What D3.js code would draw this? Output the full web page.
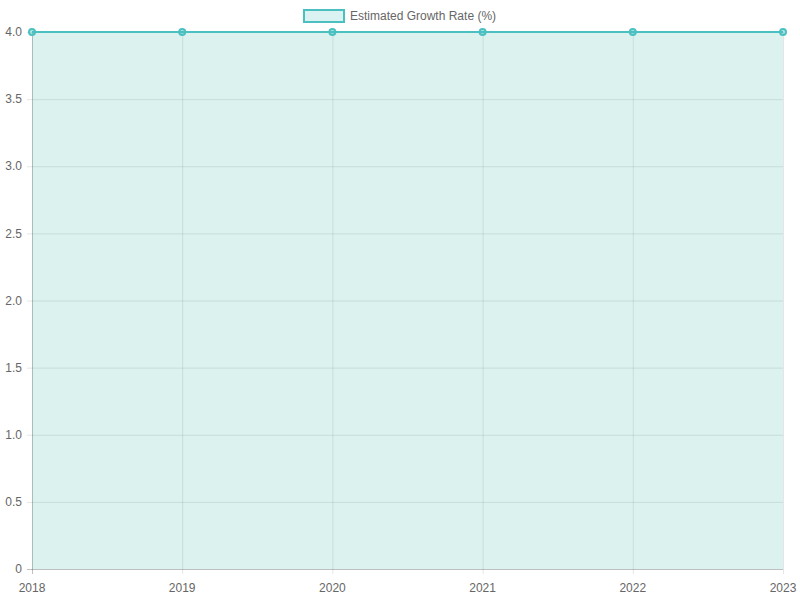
<!DOCTYPE html>
<html><head><meta charset="utf-8">
<script src="https://cdn.jsdelivr.net/npm/d3@7"></script>
<style>body{margin:0;background:#fff}svg{display:block}</style>
</head><body>
<script>
const years = ["2018","2019","2020","2021","2022","2023"];
const growthRate = [4, 4, 4, 4, 4, 4];
const yTicks = [0, 0.5, 1.0, 1.5, 2.0, 2.5, 3.0, 3.5, 4.0];
const seriesName = "Estimated Growth Rate (%)";

const W = 800, H = 600;
const m = {left: 32, right: 17, top: 32, bottom: 31};
const svg = d3.select("body").append("svg").attr("width", W).attr("height", H);
const font = "'Liberation Sans', Arial, Helvetica, sans-serif";

const x = d3.scalePoint().domain(years).range([m.left, W - m.right]);
const y = d3.scaleLinear().domain([0, 4]).range([H - m.bottom, m.top]);

// grid
const g = svg.append("g");
g.selectAll(".hg").data(yTicks).join("line")
  .attr("x1", m.left - 5).attr("x2", W - m.right)
  .attr("y1", d => y(d) + 0.5).attr("y2", d => y(d) + 0.5)
  .attr("stroke", d => d === 0 ? "rgba(0,0,0,0.25)" : "rgba(0,0,0,0.1)");
g.selectAll(".vg").data(years).join("line")
  .attr("x1", d => x(d) + 0.5).attr("x2", d => x(d) + 0.5)
  .attr("y1", m.top).attr("y2", H - m.bottom + 5)
  .attr("stroke", (d, i) => i === 0 ? "rgba(0,0,0,0.25)" : "rgba(0,0,0,0.1)");

// area
const data = years.map((yr, i) => ({yr, v: growthRate[i]}));
svg.append("path").datum(data)
  .attr("d", d3.area().x(d => x(d.yr)).y0(y(0)).y1(d => y(d.v)))
  .attr("fill", "rgba(75,192,170,0.2)");
svg.append("path").datum(data)
  .attr("d", d3.line().x(d => x(d.yr)).y(d => y(d.v)))
  .attr("fill", "none").attr("stroke", "rgb(75,192,192)").attr("stroke-width", 2);
svg.selectAll(".pt").data(data).join("circle")
  .attr("cx", d => x(d.yr)).attr("cy", d => y(d.v)).attr("r", 3)
  .attr("fill", "rgba(75,192,192,0.4)").attr("stroke", "rgb(75,192,192)").attr("stroke-width", 2);

// labels
svg.selectAll(".yl").data(yTicks).join("text")
  .attr("x", m.left - 10).attr("y", d => y(d)).attr("dy", "0.35em")
  .attr("text-anchor", "end").attr("font-family", font).attr("font-size", 12).attr("fill", "#666")
  .text(d => d === 0 ? "0" : d.toFixed(1));
svg.selectAll(".xl").data(years).join("text")
  .attr("x", d => x(d)).attr("y", H - m.bottom + 19).attr("dy", "0.35em")
  .attr("text-anchor", "middle").attr("font-family", font).attr("font-size", 12).attr("fill", "#666")
  .text(d => d);

// legend
const leg = svg.append("g");
leg.append("text").attr("x", 350).attr("y", 16).attr("dy", "0.35em")
  .attr("font-family", font).attr("font-size", 12).attr("fill", "#666").text(seriesName);
leg.append("rect").attr("x", 304).attr("y", 10).attr("width", 40).attr("height", 12)
  .attr("fill", "rgba(75,192,192,0.2)").attr("stroke", "rgb(75,192,192)").attr("stroke-width", 2);
</script>
</body></html>
